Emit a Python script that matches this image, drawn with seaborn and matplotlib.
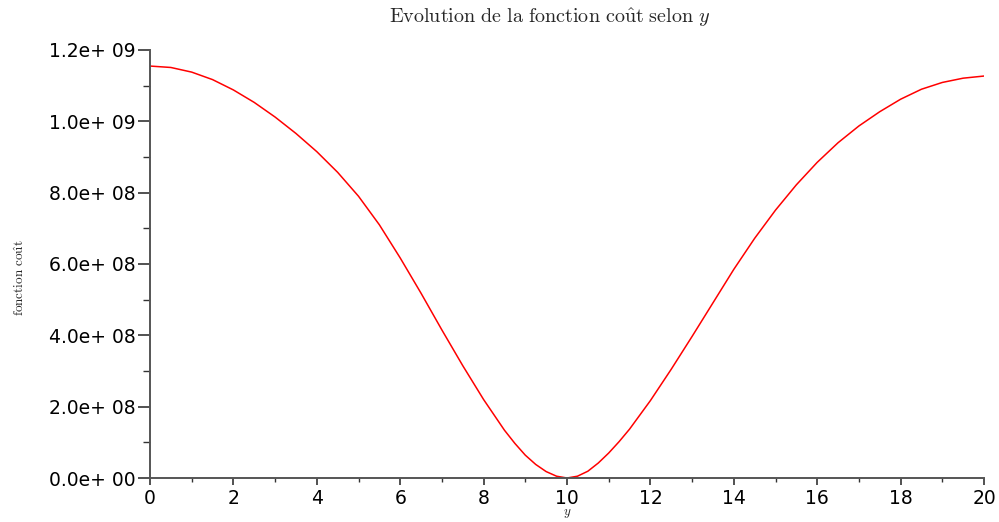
import matplotlib
matplotlib.use("Agg")
import matplotlib.pyplot as plt
import seaborn as sns
import pandas as pd
from matplotlib.ticker import MultipleLocator

# Data
y_values = [0, 0.5, 1, 1.5, 2, 2.5, 3, 3.5, 4, 4.5, 5, 5.5, 6, 6.5, 7, 7.5, 8,
            8.5, 8.75, 9, 9.25, 9.5, 9.75, 10, 10.25, 10.5, 10.75, 11, 11.25,
            11.5, 12, 12.5, 13, 13.5, 14, 14.5, 15, 15.5, 16, 16.5, 17, 17.5,
            18, 18.5, 19, 19.5, 20]
cost = [11.55e8, 11.51e8, 11.38e8, 11.17e8, 10.88e8, 10.53e8, 10.12e8, 9.66e8,
        9.15e8, 8.57e8, 7.90e8, 7.10e8, 6.17e8, 5.18e8, 4.15e8, 3.15e8, 2.20e8,
        1.34e8, 0.97e8, 0.64e8, 0.38e8, 0.18e8, 0.05e8, 0.0, 0.05e8, 0.19e8,
        0.42e8, 0.70e8, 1.02e8, 1.37e8, 2.17e8, 3.05e8, 3.97e8, 4.91e8, 5.85e8,
        6.72e8, 7.51e8, 8.22e8, 8.85e8, 9.40e8, 9.87e8, 10.27e8, 10.62e8,
        10.90e8, 11.09e8, 11.21e8, 11.27e8]

x_ticks = [0, 2, 4, 6, 8, 10, 12, 14, 16, 18, 20]
y_ticks = [0.0, 2.0e8, 4.0e8, 6.0e8, 8.0e8, 1.0e9, 1.2e9]
y_tick_labels = ["0.0e+ 00", "2.0e+ 08", "4.0e+ 08", "6.0e+ 08",
                 "8.0e+ 08", "1.0e+ 09", "1.2e+ 09"]

df = pd.DataFrame({"y": y_values, "cost": cost})

sns.set_style("ticks")
plt.rcParams["font.family"] = ["DejaVu Sans"]
plt.rcParams["mathtext.fontset"] = "cm"

fig = plt.figure(figsize=(9.99, 5.22), dpi=100)
ax = fig.add_axes([150 / 999, 1 - 478 / 522, (984 - 150) / 999, (478 - 50) / 522])

sns.lineplot(data=df, x="y", y="cost", ax=ax, color="red", linewidth=1.1)

ax.set_xlim(0, 20)
ax.set_ylim(0, 1.2e9)
ax.set_xticks(x_ticks)
ax.set_xticklabels([str(t) for t in x_ticks])
ax.set_yticks(y_ticks)
ax.set_yticklabels(y_tick_labels)
ax.xaxis.set_minor_locator(MultipleLocator(1))
ax.yaxis.set_minor_locator(MultipleLocator(1e8))

ax.set_xlabel("")
ax.set_ylabel("")

for side in ["top", "right"]:
    ax.spines[side].set_visible(False)
for side in ["left", "bottom"]:
    ax.spines[side].set_color("#555555")
    ax.spines[side].set_linewidth(1.4)

ax.tick_params(axis="y", which="major", direction="out", length=9, width=1.2,
               color="#333333", labelsize=13.5, pad=1, labelcolor="black")
ax.tick_params(axis="y", which="minor", direction="out", length=5, width=1.0,
               color="#333333")
ax.tick_params(axis="x", which="major", direction="out", length=5, width=1.2,
               color="#333333", labelsize=13.5, pad=3, labelcolor="black")
ax.tick_params(axis="x", which="minor", direction="out", length=3, width=1.0,
               color="#333333")

fig.text(550 / 999, 1 - 18 / 522,
         r"$\mathrm{Evolution\ de\ la\ fonction\ co\hat{u}t\ selon}\ y$",
         ha="center", va="center", fontsize=14.5)
fig.text(20 / 999, 1 - 278 / 522, r"$\mathrm{fonction\ co\hat{u}t}$",
         rotation=90, ha="center", va="center", fontsize=9.5)
fig.text(567 / 999, 1 - 513 / 522, r"$y$", ha="center", va="center", fontsize=9.5)

fig.savefig("out.png", dpi=100)
